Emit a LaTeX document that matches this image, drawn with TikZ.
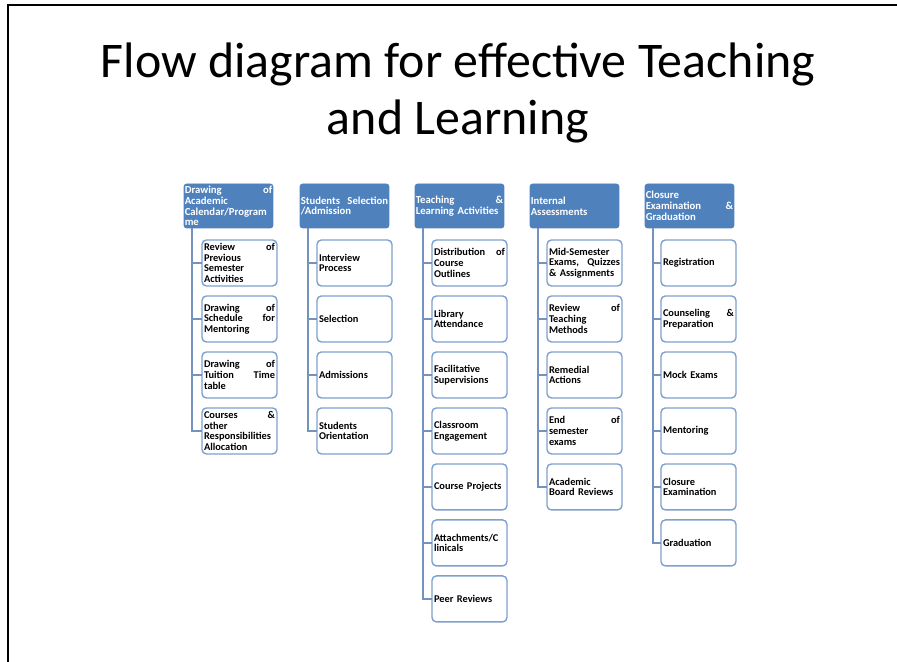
\documentclass[tikz,border=0pt]{standalone}
\usepackage{fontspec}
\setmainfont{Carlito}
\usetikzlibrary{positioning}
\definecolor{headblue}{RGB}{79,129,189}
\definecolor{boxline}{RGB}{126,160,206}
\definecolor{linkblue}{RGB}{116,146,190}
\newcommand{\spread}{\hspace{\fill}}
\tikzset{
    phase/.style={fill=headblue, draw=headblue, rounded corners=1.5pt, text=white,
        minimum width=1.78cm, minimum height=0.88cm, text width=1.75cm,
        inner sep=0.3pt, outer sep=0pt, align=left, anchor=north west,
        font=\fontsize{6.1}{6.1}\selectfont\bfseries},
    task/.style={draw=boxline, line width=0.8pt, fill=white, rounded corners=2.5pt,
        minimum width=1.5cm, minimum height=0.92cm, text width=1.42cm,
        inner sep=0.3pt, outer sep=0pt, align=left,
        font=\fontsize{5.9}{6.1}\selectfont\bfseries},
    link/.style={draw=linkblue, line width=0.8pt},
}

\begin{document}
\begin{tikzpicture}[x=0.02cm, y=-0.02cm, node distance=0.2cm]
    \useasboundingbox (0,0) rectangle (897,662);
    \draw[line width=1.1pt] (8,662) -- (8,5) -- (897,5);
    \node[font=\fontsize{28.4}{32}\selectfont, align=center] (title) at (458,93)
        {Flow diagram for effective Teaching\\and Learning};

    % column headers
    \node[phase] (h1) at (184,184) {Drawing \spread of\\Academic\\Calendar/Program\\me};
    \node[phase] (h2) at (300,184) {Students \spread Selection\\/Admission};
    \node[phase] (h3) at (415,184) {Teaching \spread \&\\Learning Activities};
    \node[phase] (h4) at (530,184) {Internal\\Assessments};
    \node[phase] (h5) at (645,184) {Closure\\Examination \spread \&\\Graduation};

    % academic calendar
    \node[task, anchor=north west] (c1a) at (202,240) {Review \spread of\\Previous\\Semester\\Activities};
    \node[task, below=of c1a] (c1b) {Drawing \spread of\\Schedule \spread for\\Mentoring};
    \node[task, below=of c1b] (c1c) {Drawing \spread of\\Tuition \spread Time\\table};
    \node[task, below=of c1c] (c1d) {Courses \spread \&\\other\\Responsibilities\\Allocation};

    % admission
    \node[task, anchor=north west] (c2a) at (317,240) {Interview\\Process};
    \node[task, below=of c2a] (c2b) {Selection};
    \node[task, below=of c2b] (c2c) {Admissions};
    \node[task, below=of c2c] (c2d) {Students\\Orientation};

    % teaching and learning
    \node[task, anchor=north west] (c3a) at (432,240) {Distribution \spread of\\Course\\Outlines};
    \node[task, below=of c3a] (c3b) {Library\\Attendance};
    \node[task, below=of c3b] (c3c) {Facilitative\\Supervisions};
    \node[task, below=of c3c] (c3d) {Classroom\\Engagement};
    \node[task, below=of c3d] (c3e) {Course Projects};
    \node[task, below=of c3e] (c3f) {Attachments/C\\linicals};
    \node[task, below=of c3f] (c3g) {Peer Reviews};

    % assessments
    \node[task, anchor=north west] (c4a) at (547,240) {Mid-Semester\\Exams, \spread Quizzes\\\& Assignments};
    \node[task, below=of c4a] (c4b) {Review \spread of\\Teaching\\Methods};
    \node[task, below=of c4b] (c4c) {Remedial\\Actions};
    \node[task, below=of c4c] (c4d) {End \spread of\\semester\\exams};
    \node[task, below=of c4d] (c4e) {Academic\\Board Reviews};

    % closure
    \node[task, anchor=north west] (c5a) at (661,240) {Registration};
    \node[task, below=of c5a] (c5b) {Counseling \spread \&\\Preparation};
    \node[task, below=of c5b] (c5c) {Mock Exams};
    \node[task, below=of c5c] (c5d) {Mentoring};
    \node[task, below=of c5d] (c5e) {Closure\\Examination};
    \node[task, below=of c5e] (c5f) {Graduation};

    % connectors
    \foreach \h in {1,...,5} \coordinate (s\h) at ([xshift=0.16cm]h\h.south west);
    \foreach \c in {c1a,c1b,c1c,c1d} \draw[link] (s1) |- (\c.west);
    \foreach \c in {c2a,c2b,c2c,c2d} \draw[link] (s2) |- (\c.west);
    \foreach \c in {c3a,c3b,c3c,c3d,c3e,c3f,c3g} \draw[link] (s3) |- (\c.west);
    \foreach \c in {c4a,c4b,c4c,c4d,c4e} \draw[link] (s4) |- (\c.west);
    \foreach \c in {c5a,c5b,c5c,c5d,c5e,c5f} \draw[link] (s5) |- (\c.west);
\end{tikzpicture}
\end{document}
